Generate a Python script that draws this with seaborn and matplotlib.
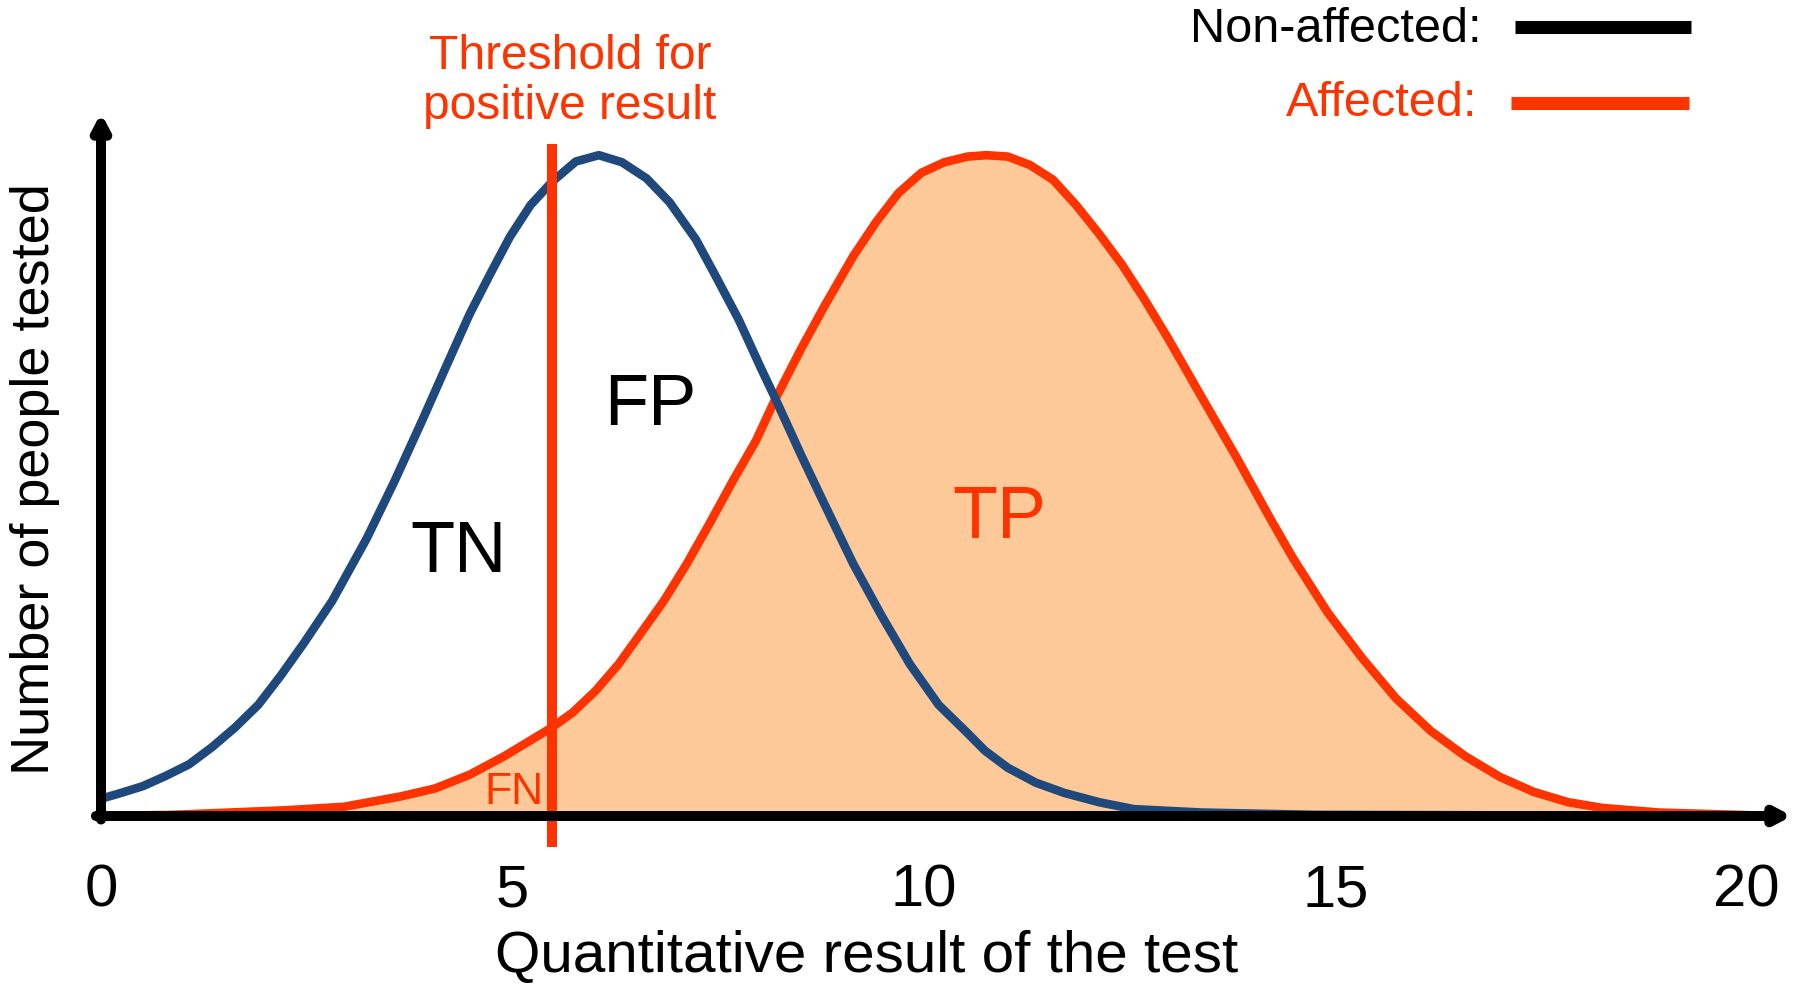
import numpy as np
import pandas as pd
import seaborn as sns
import matplotlib.pyplot as plt
from matplotlib.lines import Line2D

# values (x = test result, y = people tested, arbitrary units)
healthy_x = [0.00, 0.24, 0.51, 0.79, 1.07, 1.35, 1.63, 1.91, 2.18, 2.46, 2.81, 3.23, 3.57,
             3.92, 4.20, 4.48, 4.73, 4.97, 5.22, 5.48, 5.77, 6.05, 6.33, 6.63, 6.91, 7.23,
             7.47, 7.75, 8.02, 8.19, 8.51, 8.79, 9.14, 9.49, 9.83, 10.18, 10.53, 10.74,
             11.02, 11.36, 11.71, 12.13, 12.55, 13.38, 14.77, 20.26]
healthy_y = [2.45, 3.27, 4.25, 5.72, 7.35, 9.80, 12.6, 15.8, 19.9, 24.5, 30.6, 39.5, 47.7,
             56.7, 64.1, 71.4, 77.1, 82.4, 86.9, 90.2, 93.1, 94.0, 93.0, 90.7, 87.3, 82.0,
             76.8, 70.6, 63.7, 59.5, 51.3, 44.4, 35.9, 28.4, 21.6, 15.8, 11.8, 9.31,
             6.86, 4.74, 3.27, 1.96, 0.98, 0.49, 0.16, 0.0]

affected_x = [0.00, 0.86, 2.25, 2.95, 3.64, 4.06, 4.48, 4.90, 5.24, 5.48, 5.73, 6.01, 6.29,
              6.56, 6.84, 7.12, 7.40, 7.68, 7.96, 8.19, 8.51, 8.79, 9.14, 9.42, 9.69, 9.97,
              10.25, 10.53, 10.76, 11.02, 11.29, 11.57, 11.85, 12.13, 12.41, 12.68, 12.96,
              13.38, 13.80, 14.21, 14.49, 14.91, 15.33, 15.74, 16.16, 16.58, 17.00, 17.41,
              17.83, 18.25, 18.94, 19.92, 20.26]
affected_y = [0.0, 0.16, 0.82, 1.31, 2.78, 3.92, 5.88, 8.50, 10.9, 12.6, 14.7, 17.8, 21.6,
              26.0, 30.6, 35.9, 41.7, 47.7, 53.4, 59.2, 66.5, 72.5, 79.6, 84.5, 88.6, 91.5,
              93.0, 93.8, 94.0, 93.8, 92.6, 90.5, 86.9, 82.8, 78.4, 73.5, 68.1,
              59.5, 51.0, 42.3, 36.6, 28.9, 22.4, 16.7, 12.1, 8.50, 5.56, 3.43,
              1.96, 1.14, 0.49, 0.16, 0.0]

threshold = 5.48
xticks = [0, 5, 10, 15, 20]

blue = "#1F497D"
red = "#FF3300"
peach = "#FDC998"

sns.set_theme(style="white")
plt.rcParams['font.family'] = ['Liberation Sans', 'DejaVu Sans']
plt.rcParams['text.color'] = 'black'
plt.rcParams['axes.labelcolor'] = 'black'
plt.rcParams['xtick.color'] = 'black'

fig = plt.figure(figsize=(17.95, 9.88), dpi=100)
ax = fig.add_axes([101 / 1795, 172 / 988, 1691 / 1795, 703 / 988])
ax.set_xlim(0, 20.55)
ax.set_ylim(0, 100)

healthy = pd.DataFrame({"x": healthy_x, "y": healthy_y})
affected = pd.DataFrame({"x": affected_x, "y": affected_y})

ax.fill_between(affected["x"], 0, affected["y"], color=peach, lw=0, zorder=1)
sns.lineplot(data=affected, x="x", y="y", ax=ax, color=red, lw=6.2, zorder=2)
sns.lineplot(data=healthy, x="x", y="y", ax=ax, color=blue, lw=6.2, zorder=3)

# threshold line
ax.vlines(threshold, -4.4, 95.6, color=red, lw=7.2, zorder=4, clip_on=False)
ax.text(5.70, 104.5, "Threshold for\npositive result", color=red, fontsize=34.5,
        ha="center", va="center", linespacing=1.15, clip_on=False)

# region labels
ax.text(4.34, 37.3, "TN", fontsize=52, color="black", ha="center", va="center", zorder=5)
ax.text(6.68, 58.2, "FP", fontsize=52, color="black", ha="center", va="center", zorder=5)
ax.text(10.92, 42.3, "TP", fontsize=53, color=red, ha="center", va="center", zorder=5)
ax.text(5.02, 3.4, "FN", fontsize=32, color=red, ha="center", va="center", zorder=5)

# axes drawn as arrows
for s in ax.spines.values():
    s.set_visible(False)
arrow = dict(arrowstyle="-|>,head_length=0.72,head_width=0.38", lw=7.2, color="black",
             shrinkA=0, shrinkB=0)
ax.annotate("", xy=(0, 1), xytext=(0, -0.005), xycoords="axes fraction",
            arrowprops=arrow, zorder=10, annotation_clip=False)
ax.annotate("", xy=(1, 0), xytext=(-0.003, 0), xycoords="axes fraction",
            arrowprops=arrow, zorder=10, annotation_clip=False)

ax.set_xticks(xticks)
ax.set_xticklabels([str(t) for t in xticks], fontsize=43, color="black")
ax.tick_params(axis="x", length=0, pad=34)
ax.set_yticks([])
ax.grid(False)

ax.set_xlabel("Quantitative result of the test", fontsize=42, color="black")
ax.xaxis.set_label_coords(0.453, -0.20)
ax.xaxis.label.set_va("center")
ax.set_ylabel("Number of people tested", fontsize=39, color="black")
ax.yaxis.set_label_coords(-0.039, 0.479)
ax.yaxis.label.set_va("center")

# legend drawn by hand
fig.text(1482 / 1795, 1 - 29 / 988, "Non-affected:", fontsize=35, color="black",
         ha="right", va="center")
fig.text(1477 / 1795, 1 - 103 / 988, "Affected:", fontsize=35, color=red,
         ha="right", va="center")
fig.add_artist(Line2D([1515 / 1795, 1691 / 1795], [1 - 27 / 988, 1 - 27 / 988],
                      color="black", lw=9.4, solid_capstyle="butt"))
fig.add_artist(Line2D([1511 / 1795, 1689 / 1795], [1 - 103 / 988, 1 - 103 / 988],
                      color=red, lw=9.4, solid_capstyle="butt"))

fig.savefig("out.png", dpi=100)
